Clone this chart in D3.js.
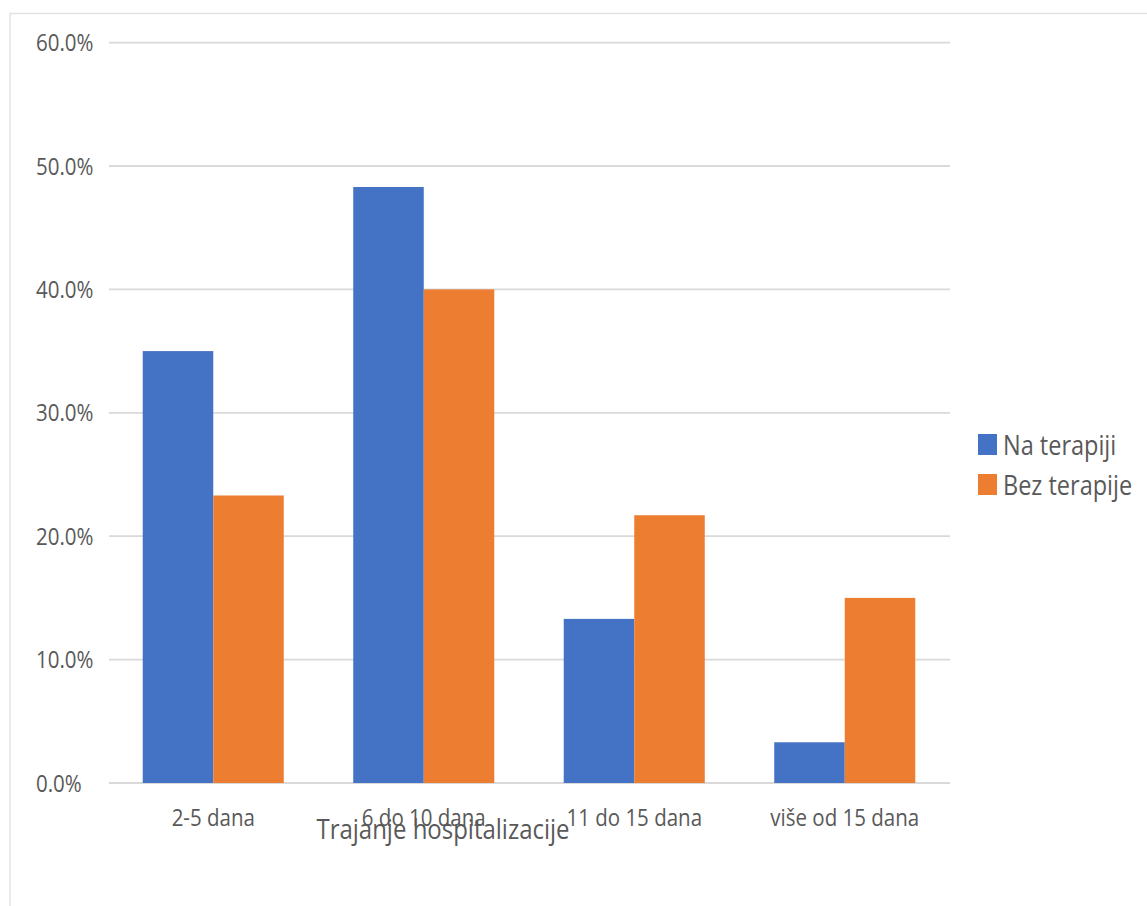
<!DOCTYPE html>
<html>
<head>
<meta charset="utf-8">
<script src="https://cdn.jsdelivr.net/npm/d3@7"></script>
<style>
  body { margin: 0; background: #fff; }
  text { font-family: "Open Sans", sans-serif; fill: #595959; }
</style>
</head>
<body>
<div id="wrapper"></div>
<script>
const categories = ["2-5 dana", "6 do 10 dana", "11 do 15 dana", "više od 15 dana"]
const seriesNames = ["Na terapiji", "Bez terapije"]
const naTerapiji = [35.0, 48.3, 13.3, 3.3]
const bezTerapije = [23.3, 40.0, 21.7, 15.0]
const yTicks = [0, 10, 20, 30, 40, 50, 60]
const axisTitle = "Trajanje hospitalizacije"
const colors = ["#4472C4", "#ED7D31"]

function drawChart() {

  // Specify chart dimensions
  let dimensions = {
    width: 1147,
    height: 906,
    margin: {
      top: 42.6,
      right: 197,
      bottom: 123,
      left: 108
    }
  }
  dimensions.boundedWidth = dimensions.width
                          - dimensions.margin.left
                          - dimensions.margin.right
  dimensions.boundedHeight = dimensions.height
                           - dimensions.margin.top
                           - dimensions.margin.bottom

  const series = [naTerapiji, bezTerapije]
  const dataset = categories.map((c, i) => ({
    category: c,
    values: series.map((s, j) => ({ key: seriesNames[j], value: s[i], idx: j }))
  }))

  // text in the picture is a bit stretched vertically
  const stretch = 1.13
  const place = (x, y) => `translate(${x},${y}) scale(1,${stretch})`

  // Define scale functions
  const xScale = d3.scaleBand()
    .domain(categories)
    .range([0, dimensions.boundedWidth])
    .paddingInner(0.33)
    .paddingOuter(0.165)

  const xInner = d3.scaleBand()
    .domain(seriesNames)
    .range([0, xScale.bandwidth()])

  const yScale = d3.scaleLinear()
    .domain([0, 60])
    .range([dimensions.boundedHeight, 0])

  const svg = d3.select("#wrapper").append("svg")
    .attr("width", dimensions.width)
    .attr("height", dimensions.height)

  // chart frame
  svg.append("rect")
    .attr("x", 10)
    .attr("y", 13.5)
    .attr("width", 1300)
    .attr("height", 1000)
    .attr("fill", "none")
    .attr("stroke", "#e3e3e3")
    .attr("stroke-width", 1.5)

  const bounds = svg.append("g")
    .attr("transform", `translate(${dimensions.margin.left}, ${dimensions.margin.top})`)

  // gridlines
  bounds.append("g")
    .selectAll("line")
    .data(yTicks)
    .join("line")
      .attr("x1", 1)
      .attr("x2", dimensions.boundedWidth)
      .attr("y1", d => yScale(d))
      .attr("y2", d => yScale(d))
      .attr("stroke", "#d9d9d9")
      .attr("stroke-width", 1.8)

  // y tick labels, left aligned
  svg.append("g")
    .selectAll("text")
    .data(yTicks)
    .join("text")
      .attr("transform", d => place(36, dimensions.margin.top + yScale(d) + 8.5))
      .attr("font-size", 20.5)
      .text(d => d3.format(".1f")(d) + "%")

  // bars
  const groups = bounds.selectAll(".group")
    .data(dataset)
    .join("g")
      .attr("class", "group")
      .attr("transform", d => `translate(${xScale(d.category)}, 0)`)

  groups.selectAll("rect")
    .data(d => d.values)
    .join("rect")
      .attr("x", d => xInner(d.key))
      .attr("y", d => yScale(d.value))
      .attr("width", xInner.bandwidth())
      .attr("height", d => dimensions.boundedHeight - yScale(d.value))
      .attr("fill", d => colors[d.idx])

  // category labels
  svg.append("g")
    .selectAll("text")
    .data(categories)
    .join("text")
      .attr("text-anchor", "middle")
      .attr("transform", d => place(dimensions.margin.left + xScale(d) + xScale.bandwidth() / 2, 826))
      .attr("font-size", 20.5)
      .text(d => d)

  // axis title
  svg.append("text")
    .attr("text-anchor", "middle")
    .attr("transform", place(443, 839))
    .attr("font-size", 24)
    .text(axisTitle)

  // legend
  const legend = svg.append("g")
    .selectAll("g")
    .data(seriesNames)
    .join("g")
      .attr("transform", (d, i) => `translate(978, ${434 + i * 40})`)

  legend.append("rect")
    .attr("width", 19)
    .attr("height", 21)
    .attr("fill", (d, i) => colors[i])

  legend.append("text")
    .attr("transform", place(25, 21))
    .attr("font-size", 23.5)
    .text(d => d)
}
drawChart()
</script>
</body>
</html>
